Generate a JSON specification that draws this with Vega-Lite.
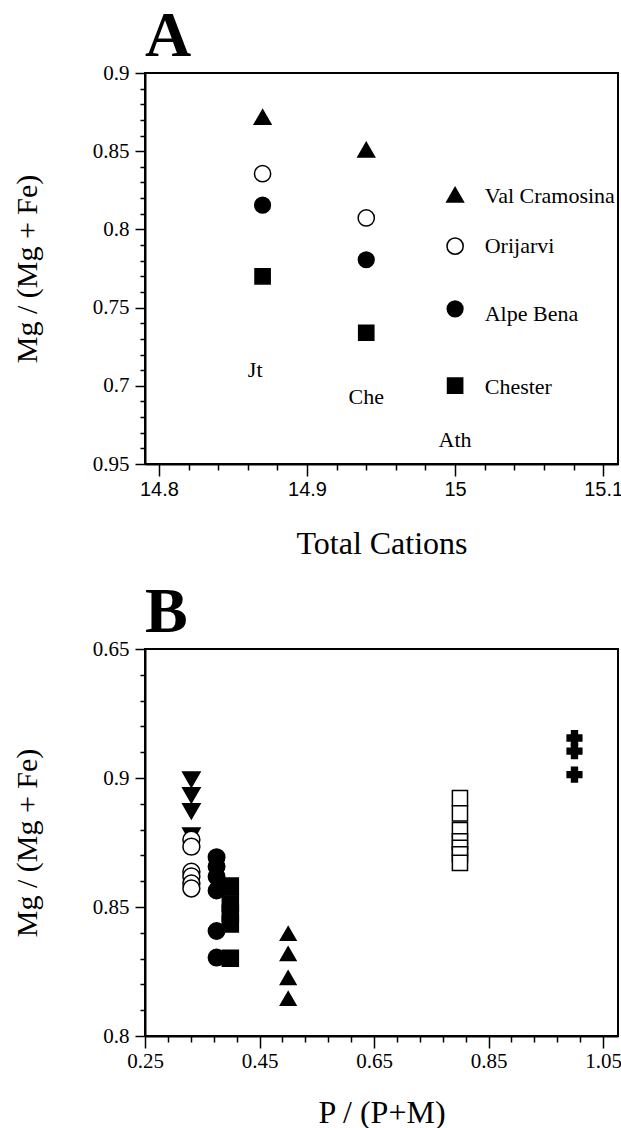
{
  "$schema": "https://vega.github.io/schema/vega-lite/v6.json",
  "padding": {"left": 11, "top": 4, "right": 0, "bottom": 0},
  "background": "white",
  "spacing": 20,
  "resolve": {"scale": {"x": "independent", "y": "independent", "shape": "independent", "fill": "independent", "size": "independent"}},
  "config": {
    "view": {"stroke": "black", "strokeWidth": 2},
    "axis": {"grid": false, "domainColor": "black", "domainWidth": 2, "tickColor": "black", "tickWidth": 1.5, "labelColor": "black", "titleColor": "black", "labelOverlap": false, "labelFlush": false, "labelBound": false, "titleFontWeight": "normal", "titleFont": "Liberation Serif", "labelFont": "Liberation Serif"},
    "title": {"font": "Liberation Serif", "fontWeight": "bold", "fontSize": 64, "anchor": "start", "color": "black", "frame": "group"}
  },
  "datasets": {
    "a_pts": [
      {"group": "Val Cramosina", "x": 14.87, "y": 0.8718},
      {"group": "Orijarvi", "x": 14.87, "y": 0.8356},
      {"group": "Alpe Bena", "x": 14.87, "y": 0.8155},
      {"group": "Chester", "x": 14.87, "y": 0.77},
      {"group": "Val Cramosina", "x": 14.94, "y": 0.851},
      {"group": "Orijarvi", "x": 14.94, "y": 0.8073},
      {"group": "Alpe Bena", "x": 14.94, "y": 0.7806},
      {"group": "Chester", "x": 14.94, "y": 0.7339}
    ],
    "a_leg_sym": [
      {"group": "Val Cramosina", "x": 15.0, "y": 0.8222},
      {"group": "Orijarvi", "x": 15.0, "y": 0.7893},
      {"group": "Alpe Bena", "x": 15.0, "y": 0.7492},
      {"group": "Chester", "x": 15.0, "y": 0.7001}
    ],
    "a_leg_txt": [
      {"label": "Val Cramosina", "x": 15.02, "y": 0.8211},
      {"label": "Orijarvi", "x": 15.02, "y": 0.7897},
      {"label": "Alpe Bena", "x": 15.02, "y": 0.7462},
      {"label": "Chester", "x": 15.02, "y": 0.6995}
    ],
    "a_txt": [
      {"label": "Jt", "x": 14.865, "y": 0.7104},
      {"label": "Che", "x": 14.94, "y": 0.6926},
      {"label": "Ath", "x": 15.0, "y": 0.6655}
    ],
    "b_pts": [
      {"group": "Series 1", "x": 0.331, "y": 0.8994},
      {"group": "Series 1", "x": 0.331, "y": 0.8933},
      {"group": "Series 1", "x": 0.331, "y": 0.8871},
      {"group": "Series 1", "x": 0.331, "y": 0.8777},
      {"group": "Series 2", "x": 0.331, "y": 0.8761},
      {"group": "Series 2", "x": 0.331, "y": 0.8734},
      {"group": "Series 2", "x": 0.331, "y": 0.8637},
      {"group": "Series 2", "x": 0.331, "y": 0.8618},
      {"group": "Series 2", "x": 0.331, "y": 0.8591},
      {"group": "Series 2", "x": 0.331, "y": 0.8572},
      {"group": "Series 3", "x": 0.375, "y": 0.8693},
      {"group": "Series 3", "x": 0.375, "y": 0.8657},
      {"group": "Series 3", "x": 0.375, "y": 0.8618},
      {"group": "Series 3", "x": 0.375, "y": 0.8564},
      {"group": "Series 3", "x": 0.375, "y": 0.8407},
      {"group": "Series 3", "x": 0.375, "y": 0.8304},
      {"group": "Series 4", "x": 0.399, "y": 0.8581},
      {"group": "Series 4", "x": 0.399, "y": 0.8515},
      {"group": "Series 4", "x": 0.399, "y": 0.8475},
      {"group": "Series 4", "x": 0.399, "y": 0.8434},
      {"group": "Series 4", "x": 0.399, "y": 0.8301},
      {"group": "Series 5", "x": 0.5, "y": 0.8397},
      {"group": "Series 5", "x": 0.5, "y": 0.8319},
      {"group": "Series 5", "x": 0.5, "y": 0.8226},
      {"group": "Series 5", "x": 0.5, "y": 0.8145},
      {"group": "Series 6", "x": 0.8, "y": 0.8922},
      {"group": "Series 6", "x": 0.8, "y": 0.8863},
      {"group": "Series 6", "x": 0.8, "y": 0.8798},
      {"group": "Series 6", "x": 0.8, "y": 0.8755},
      {"group": "Series 6", "x": 0.8, "y": 0.8729},
      {"group": "Series 6", "x": 0.8, "y": 0.8704},
      {"group": "Series 6", "x": 0.8, "y": 0.8671},
      {"group": "Series 7", "x": 1.0, "y": 0.9155},
      {"group": "Series 7", "x": 1.0, "y": 0.9104},
      {"group": "Series 7", "x": 1.0, "y": 0.9013}
    ]
  },
  "vconcat": [
    {
      "title": {"text": "A", "offset": -7},
      "width": 473,
      "height": 391,
      "encoding": {
        "x": {"field": "x", "type": "quantitative",
          "scale": {"domain": [14.7906, 15.11], "nice": false, "zero": false},
          "axis": {
            "values": [14.8, 14.82, 14.84, 14.86, 14.88, 14.9, 14.92, 14.94, 14.96, 14.98, 15, 15.02, 15.04, 15.06, 15.08, 15.1],
            "labelExpr": "abs(datum.value*10 - round(datum.value*10)) < 0.001 ? format(datum.value, '.1~f') : ''",
            "tickSize": 12,
            "tickDash": {"condition": {"test": "abs(datum.value*10 - round(datum.value*10)) > 0.001", "value": [6, 30]}, "value": [30, 0]},
            "labelFont": "Liberation Sans", "labelFontSize": 20, "labelPadding": 3,
            "title": "Total Cations", "titleFontSize": 32, "titlePadding": 29
          }
        },
        "y": {"field": "y", "type": "quantitative",
          "scale": {"domain": [0.65, 0.9], "nice": false, "zero": false},
          "axis": {
            "values": [0.65, 0.66, 0.67, 0.68, 0.69, 0.7, 0.71, 0.72, 0.73, 0.74, 0.75, 0.76, 0.77, 0.78, 0.79, 0.8, 0.81, 0.82, 0.83, 0.84, 0.85, 0.86, 0.87, 0.88, 0.89, 0.9],
            "labelExpr": "abs(datum.value*20 - round(datum.value*20)) < 0.001 ? (abs(datum.value - 0.65) < 0.001 ? '0.95' : format(datum.value, '.2~f')) : ''",
            "tickSize": 10,
            "tickDash": {"condition": {"test": "abs(datum.value*20 - round(datum.value*20)) > 0.001", "value": [5, 30]}, "value": [30, 0]},
            "labelFontSize": 21, "labelPadding": 6,
            "title": "Mg / (Mg + Fe)", "titleFontSize": 30, "titlePadding": 50
          }
        }
      },
      "layer": [
        {
          "data": {"name": "a_pts"},
          "mark": {"type": "point", "filled": true, "stroke": "black", "strokeWidth": 1.5, "opacity": 1},
          "encoding": {
            "shape": {"field": "group", "type": "nominal", "scale": {"domain": ["Val Cramosina", "Orijarvi", "Alpe Bena", "Chester"], "range": ["triangle-up", "circle", "circle", "square"]}, "legend": null},
            "fill": {"field": "group", "type": "nominal", "scale": {"domain": ["Val Cramosina", "Orijarvi", "Alpe Bena", "Chester"], "range": ["black", "white", "black", "black"]}, "legend": null},
            "size": {"field": "group", "type": "ordinal", "scale": {"domain": ["Val Cramosina", "Orijarvi", "Alpe Bena", "Chester"], "range": [280, 230, 240, 185]}, "legend": null}
          }
        },
        {
          "data": {"name": "a_leg_sym"},
          "mark": {"type": "point", "filled": true, "stroke": "black", "strokeWidth": 1.5, "opacity": 1},
          "encoding": {
            "shape": {"field": "group", "type": "nominal", "scale": {"domain": ["Val Cramosina", "Orijarvi", "Alpe Bena", "Chester"], "range": ["triangle-up", "circle", "circle", "square"]}, "legend": null},
            "fill": {"field": "group", "type": "nominal", "scale": {"domain": ["Val Cramosina", "Orijarvi", "Alpe Bena", "Chester"], "range": ["black", "white", "black", "black"]}, "legend": null},
            "size": {"field": "group", "type": "ordinal", "scale": {"domain": ["Val Cramosina", "Orijarvi", "Alpe Bena", "Chester"], "range": [280, 230, 240, 185]}, "legend": null}
          }
        },
        {
          "data": {"name": "a_leg_txt"},
          "mark": {"type": "text", "font": "Liberation Serif", "fontSize": 22, "align": "left", "baseline": "middle", "color": "black"},
          "encoding": {"text": {"field": "label"}}
        },
        {
          "data": {"name": "a_txt"},
          "mark": {"type": "text", "font": "Liberation Serif", "fontSize": 22, "align": "center", "baseline": "middle", "color": "black"},
          "encoding": {"text": {"field": "label"}}
        }
      ]
    },
    {
      "title": {"text": "B", "offset": -7},
      "width": 473,
      "height": 387,
      "data": {"name": "b_pts"},
      "mark": {"type": "point", "filled": true, "stroke": "black", "strokeWidth": 1.5, "opacity": 1},
      "encoding": {
        "x": {"field": "x", "type": "quantitative",
          "scale": {"domain": [0.25, 1.076], "nice": false, "zero": false},
          "axis": {
            "values": [0.25, 0.29, 0.33, 0.37, 0.41, 0.45, 0.49, 0.53, 0.57, 0.61, 0.65, 0.69, 0.73, 0.77, 0.81, 0.85, 0.89, 0.93, 0.97, 1.01, 1.05],
            "labelExpr": "abs((datum.value-0.25)*5 - round((datum.value-0.25)*5)) < 0.001 ? format(datum.value, '.2~f') : ''",
            "tickSize": 12,
            "tickDash": {"condition": {"test": "abs((datum.value-0.25)*5 - round((datum.value-0.25)*5)) > 0.001", "value": [6, 30]}, "value": [30, 0]},
            "labelFontSize": 21, "labelPadding": 2,
            "title": "P / (P+M)", "titleFontSize": 32, "titlePadding": 26
          }
        },
        "y": {"field": "y", "type": "quantitative",
          "scale": {"domain": [0.8, 0.95], "nice": false, "zero": false},
          "axis": {
            "values": [0.8, 0.81, 0.82, 0.83, 0.84, 0.85, 0.86, 0.87, 0.88, 0.89, 0.9, 0.91, 0.92, 0.93, 0.94, 0.95],
            "labelExpr": "abs(datum.value*20 - round(datum.value*20)) < 0.001 ? (abs(datum.value - 0.95) < 0.001 ? '0.65' : format(datum.value, '.2~f')) : ''",
            "tickSize": 10,
            "tickDash": {"condition": {"test": "abs(datum.value*20 - round(datum.value*20)) > 0.001", "value": [5, 30]}, "value": [30, 0]},
            "labelFontSize": 21, "labelPadding": 6,
            "title": "Mg / (Mg + Fe)", "titleFontSize": 30, "titlePadding": 50
          }
        },
        "shape": {"field": "group", "type": "nominal", "scale": {"domain": ["Series 1", "Series 2", "Series 3", "Series 4", "Series 5", "Series 6", "Series 7"], "range": ["triangle-down", "circle", "circle", "square", "triangle-up", "square", "cross"]}, "legend": null},
        "fill": {"field": "group", "type": "nominal", "scale": {"domain": ["Series 1", "Series 2", "Series 3", "Series 4", "Series 5", "Series 6", "Series 7"], "range": ["black", "white", "black", "black", "black", "white", "black"]}, "legend": null},
        "size": {"field": "group", "type": "ordinal", "scale": {"domain": ["Series 1", "Series 2", "Series 3", "Series 4", "Series 5", "Series 6", "Series 7"], "range": [300, 215, 240, 165, 290, 140, 190]}, "legend": null}
      }
    }
  ]
}
